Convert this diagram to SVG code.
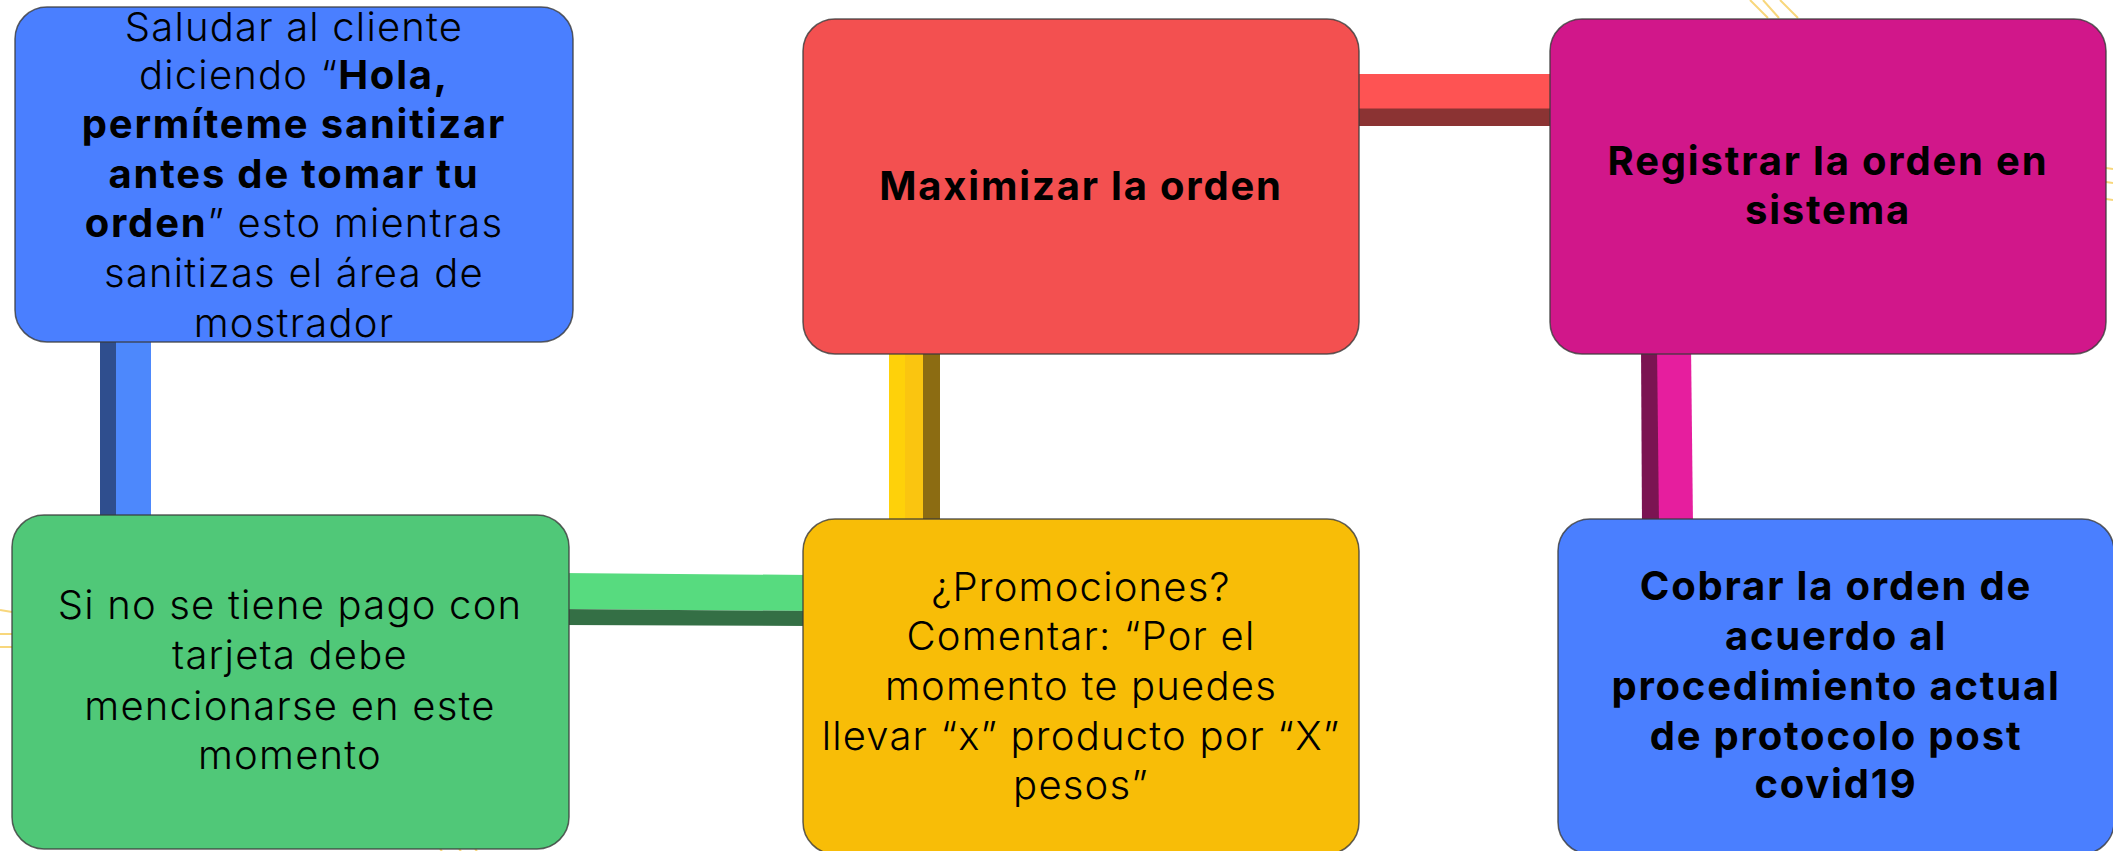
<svg xmlns="http://www.w3.org/2000/svg" width="2113" height="851" viewBox="0 0 2113 851">
<style>
.box{stroke:#3a3a3a;stroke-width:1.5;stroke-opacity:0.8}
.t{font-family:Inter,"Open Sans","Liberation Sans",sans-serif;font-size:40px;fill:#000;text-anchor:middle;font-weight:300;letter-spacing:1.2px}
.b{font-weight:700;letter-spacing:1.8px}
.deco{stroke:#f8d77c;stroke-width:2;fill:none}
</style>
<rect width="2113" height="851" fill="#ffffff"/>
<g id="decorations">
<path class="deco" d="M1750,0 L1768,18 M1763,0 L1779,18 M1780,0 L1798,18"/>
<path class="deco" d="M2106,168 L2113,169 M2106,182 L2113,183 M2106,199 L2113,200"/>
<path class="deco" d="M0,610 L12,612 M0,634 L12,634 M0,647 L12,647"/>
<path class="deco" d="M440,849 L442,851 M459,849 L461,851 M475,849 L477,851"/>
</g>
<g id="connectors">
<rect x="100" y="330" width="17" height="195" fill="#2f4e8e"/>
<rect x="116" y="330" width="35" height="195" fill="#4d88fc"/>
<polygon points="560,573 810,575 810,611 560,609" fill="#57db7f"/>
<polygon points="560,609 810,611 810,626 560,625" fill="#346f45"/>
<rect x="889" y="345" width="17" height="180" fill="#fed10a"/>
<rect x="905" y="345" width="19" height="180" fill="#fac510"/>
<rect x="923" y="345" width="17" height="180" fill="#8c6c12"/>
<rect x="1350" y="74" width="210" height="35" fill="#fe5353"/>
<rect x="1350" y="108.5" width="210" height="17.5" fill="#8b3333"/>
<polygon points="1641,345 1658,345 1660,525 1642,525" fill="#7b1452"/>
<polygon points="1657,345 1691,345 1693,525 1659,525" fill="#e61e9e"/>
</g>
<g id="node-saludar">
<rect class="box" x="15" y="7" width="558" height="335" rx="32" fill="#4a7fff"/>
<text class="t" x="294" y="41">Saludar al cliente</text>
<text class="t" x="294" y="89">diciendo “<tspan class="b">Hola,</tspan></text>
<text class="t b" x="294" y="138">permíteme sanitizar</text>
<text class="t b" x="294" y="188">antes de tomar tu</text>
<text class="t" x="294" y="237"><tspan class="b">orden</tspan>” esto mientras</text>
<text class="t" x="294" y="287">sanitizas el área de</text>
<text class="t" x="294" y="337">mostrador</text>
</g>
<g id="node-tarjeta">
<rect class="box" x="12" y="515" width="557" height="334" rx="32" fill="#50c878"/>
<text class="t" x="290" y="619">Si no se tiene pago con</text>
<text class="t" x="290" y="669">tarjeta debe</text>
<text class="t" x="290" y="720">mencionarse en este</text>
<text class="t" x="290" y="769">momento</text>
</g>
<g id="node-maximizar">
<rect class="box" x="803" y="19" width="556" height="335" rx="32" fill="#f35050"/>
<text class="t b" x="1081" y="200">Maximizar la orden</text>
</g>
<g id="node-promociones">
<rect class="box" x="803" y="519" width="556" height="335" rx="32" fill="#f8bd07"/>
<text class="t" x="1081" y="601">¿Promociones?</text>
<text class="t" x="1081" y="650">Comentar: “Por el</text>
<text class="t" x="1081" y="700">momento te puedes</text>
<text class="t" x="1081" y="750">llevar “x” producto por “X”</text>
<text class="t" x="1081" y="799">pesos”</text>
</g>
<g id="node-registrar">
<rect class="box" x="1550" y="19" width="556" height="335" rx="32" fill="#d1178a"/>
<text class="t b" x="1828" y="175">Registrar la orden en</text>
<text class="t b" x="1828" y="224">sistema</text>
</g>
<g id="node-cobrar">
<rect class="box" x="1558" y="519" width="556" height="335" rx="32" fill="#4a7fff"/>
<text class="t b" x="1836" y="600">Cobrar la orden de</text>
<text class="t b" x="1836" y="650">acuerdo al</text>
<text class="t b" x="1836" y="700">procedimiento actual</text>
<text class="t b" x="1836" y="750">de protocolo post</text>
<text class="t b" x="1836" y="798">covid19</text>
</g>
</svg>
